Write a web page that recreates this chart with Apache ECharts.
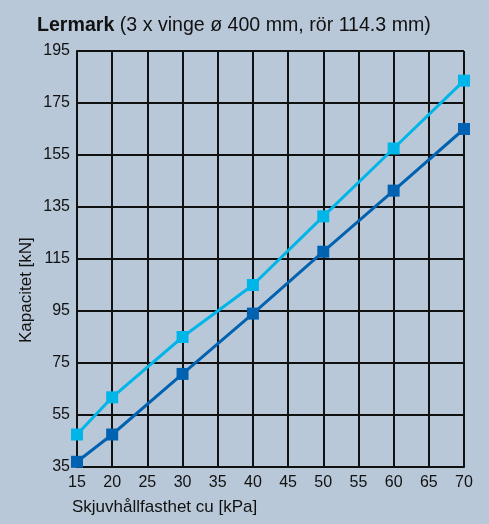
<!DOCTYPE html>
<html>
<head>
<meta charset="utf-8">
<script src="https://cdn.jsdelivr.net/npm/echarts@6/dist/echarts.min.js"></script>
<style>
html, body { margin: 0; padding: 0; background: #b9c8d8; }
#chart { width: 489px; height: 524px; }
</style>
</head>
<body>
<div id="chart"></div>
<script>
// shear strength cu [kPa]
const shear = [15, 20, 30, 40, 50, 60, 70];
// capacity [kN]
const upper = [47.5, 61.8, 85, 105, 131.4, 157.5, 183.6];
const lower = [37, 47.5, 70.8, 94, 117.8, 141.3, 165];

const chart = echarts.init(document.getElementById('chart'));
const font = 'Liberation Sans, Arial, sans-serif';

chart.setOption({
    backgroundColor: '#b9c8d8',
    animation: false,
    title: {
        text: '{b|Lermark} (3 x vinge ø 400 mm, rör 114.3 mm)',
        left: 32,
        top: 11,
        textStyle: {
            fontFamily: font,
            fontSize: 19.6,
            fontWeight: 'normal',
            color: '#111',
            rich: {
                b: { fontFamily: font, fontSize: 19.6, fontWeight: 'bold', color: '#111' }
            }
        }
    },
    grid: { left: 77, right: 25, top: 51, bottom: 57 },
    xAxis: {
        type: 'value',
        min: 15,
        max: 70,
        interval: 5,
        axisLine: { lineStyle: { color: '#111', width: 2 } },
        axisTick: { show: false },
        axisLabel: { color: '#111', fontFamily: font, fontSize: 16, margin: 8 },
        splitLine: { show: true, lineStyle: { color: '#111', width: 2 } }
    },
    yAxis: {
        type: 'value',
        min: 35,
        max: 195,
        interval: 20,
        axisLine: { show: true, lineStyle: { color: '#111', width: 2 } },
        axisTick: { show: false },
        axisLabel: { color: '#111', fontFamily: font, fontSize: 16, margin: 7 },
        splitLine: { show: true, lineStyle: { color: '#111', width: 2 } }
    },
    graphic: [
        {
            type: 'text',
            left: 72,
            top: 499,
            style: { text: 'Skjuvhållfasthet cu [kPa]', font: '17px ' + font, fill: '#111' }
        },
        {
            type: 'text',
            x: 18,
            y: 343,
            rotation: Math.PI / 2,
            style: { text: 'Kapacitet [kN]', font: '17px ' + font, fill: '#111' }
        }
    ],
    series: [
        {
            type: 'line',
            data: shear.map((x, i) => [x, upper[i]]),
            symbol: 'rect',
            symbolSize: 12,
            showAllSymbol: true,
            lineStyle: { color: '#00b5e8', width: 3 },
            itemStyle: { color: '#00b5e8' },
            z: 3
        },
        {
            type: 'line',
            data: shear.map((x, i) => [x, lower[i]]),
            symbol: 'rect',
            symbolSize: 12,
            showAllSymbol: true,
            lineStyle: { color: '#0062b1', width: 3 },
            itemStyle: { color: '#0062b1' },
            z: 3
        }
    ]
});
</script>
</body>
</html>
